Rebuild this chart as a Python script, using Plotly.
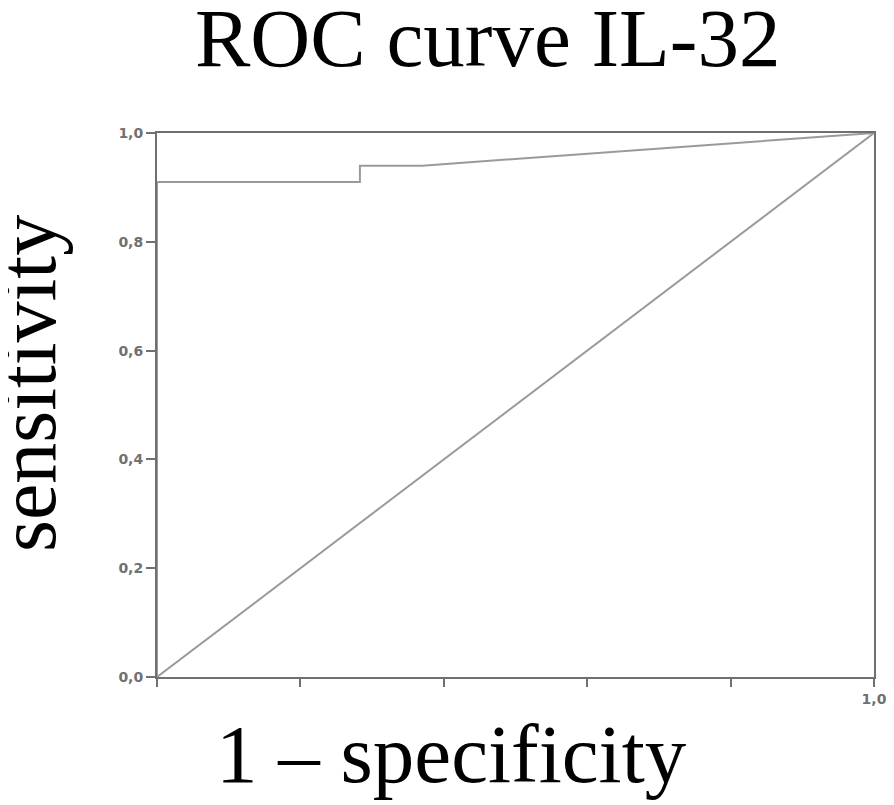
import plotly.graph_objects as go

# ROC curve points (1 - specificity, sensitivity)
fpr = [0.0, 0.0, 0.283, 0.283, 0.37, 1.0]
tpr = [0.0, 0.91, 0.91, 0.94, 0.94, 1.0]

# reference diagonal
diag_x = [0.0, 1.0]
diag_y = [0.0, 1.0]

y_ticks = [0.0, 0.2, 0.4, 0.6, 0.8, 1.0]
y_tick_labels = ["0,0", "0,2", "0,4", "0,6", "0,8", "1,0"]
x_ticks = [0.0, 0.2, 0.4, 0.6, 0.8, 1.0]
x_tick_labels = ["", "", "", "", "", "1,0"]

serif = "Liberation Serif, Times New Roman, serif"
tick_font = dict(family="DejaVu Sans, sans-serif", size=14,
                 color="#707070", weight="bold")

# page body has an 8px margin, so the figure is drawn 8px smaller and shifted
OFF = 8
W, H = 894 - OFF, 805 - OFF
L, T, R, B = 157 - OFF, 133 - OFF, 20, 128
PW, PH = 874 - 157, 677 - 133


def px(x):
    return (x - 157) / PW


def py(y):
    return (677 - y) / PH


fig = go.Figure()

fig.add_trace(go.Scatter(x=diag_x, y=diag_y, mode="lines",
                         line=dict(color="#9a9a9a", width=2), showlegend=False))
fig.add_trace(go.Scatter(x=fpr, y=tpr, mode="lines",
                         line=dict(color="#9a9a9a", width=2), showlegend=False))

fig.update_layout(
    width=W,
    height=H,
    paper_bgcolor="white",
    plot_bgcolor="white",
    margin=dict(l=L, r=R, t=T, b=B, autoexpand=False),
    showlegend=False,
)

fig.update_xaxes(
    range=[0, 1], tickvals=x_ticks, ticktext=x_tick_labels, automargin=False,
    showgrid=False, zeroline=False, showline=True, linecolor="#707070", linewidth=2,
    mirror=True, ticks="outside", ticklen=8, tickcolor="#707070", tickwidth=2,
    tickfont=tick_font,
)
fig.update_yaxes(
    range=[0, 1], tickvals=y_ticks, ticktext=y_tick_labels, automargin=False,
    showgrid=False, zeroline=False, showline=True, linecolor="#707070", linewidth=2,
    mirror=True, ticks="outside", ticklen=9, tickcolor="#707070", tickwidth=2,
    tickfont=tick_font,
)

fig.add_annotation(text="ROC curve IL-32", xref="paper", yref="paper",
                   x=px(487), y=py(38), showarrow=False,
                   xanchor="center", yanchor="middle",
                   font=dict(family=serif, size=83, color="black"))
fig.add_annotation(text="sensitivity", xref="paper", yref="paper",
                   x=px(27), y=py(384), showarrow=False,
                   textangle=-90, xanchor="center", yanchor="middle",
                   font=dict(family=serif, size=82, color="black"))
fig.add_annotation(text="1 – specificity", xref="paper", yref="paper",
                   x=px(451), y=py(754), showarrow=False,
                   xanchor="center", yanchor="middle",
                   font=dict(family=serif, size=83, color="black"))

fig.write_html("out.html")
